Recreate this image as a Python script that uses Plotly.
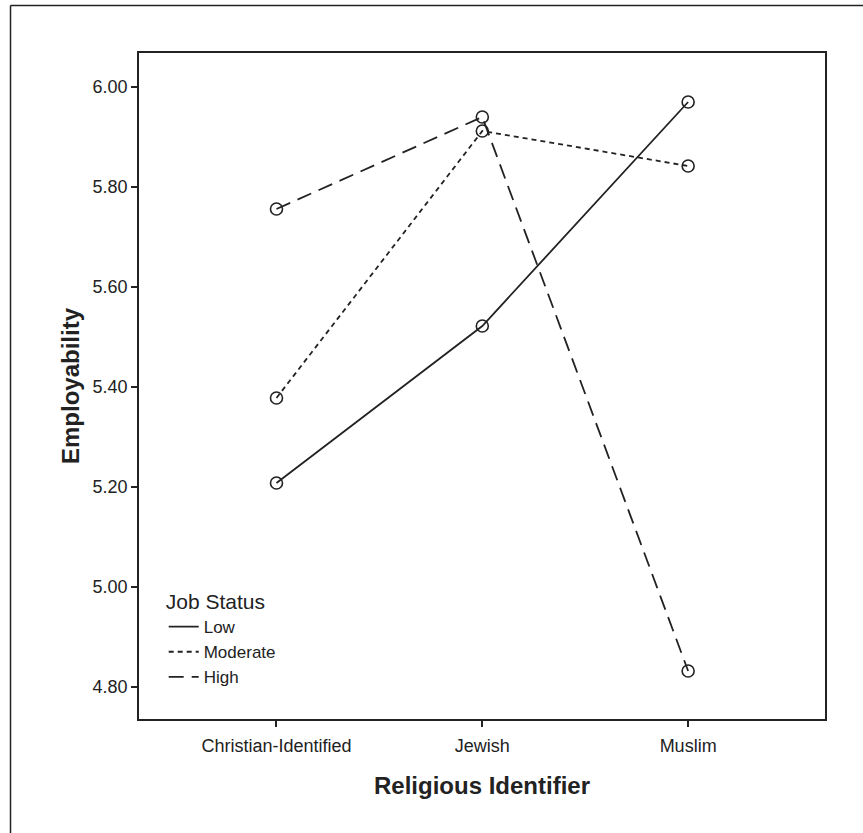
import plotly.graph_objects as go

categories = ["Christian-Identified", "Jewish", "Muslim"]
low = [5.208, 5.522, 5.970]
moderate = [5.378, 5.912, 5.842]
high = [5.756, 5.940, 4.832]
series_names = ["Low", "Moderate", "High"]
y_ticks = [4.80, 5.00, 5.20, 5.40, 5.60, 5.80, 6.00]

FONT = "Liberation Sans, Arial, sans-serif"
INK = "#222222"
dashes = ["solid", "5px,4px", "15px,8px"]

fig = go.Figure()
for name, vals, dash in zip(series_names, [low, moderate, high], dashes):
    fig.add_trace(go.Scatter(
        x=categories, y=vals, mode="lines", name=name,
        line=dict(color=INK, width=1.8, dash=dash),
        showlegend=True,
    ))
for name, vals in zip(series_names, [low, moderate, high]):
    fig.add_trace(go.Scatter(
        x=categories, y=vals, mode="markers", name=name,
        marker=dict(symbol="circle-open", size=12, color=INK,
                    line=dict(color=INK, width=1.6)),
        showlegend=False, hoverinfo="skip",
    ))

fig.update_layout(
    width=863, height=833,
    margin=dict(l=139, r=38, t=53, b=114),
    paper_bgcolor="white", plot_bgcolor="white",
    font=dict(family=FONT, color=INK, size=18),
    legend=dict(
        title=dict(text="Job Status", font=dict(size=21, family=FONT, color=INK)),
        x=0.036, y=0.206, xanchor="left", yanchor="top",
        bgcolor="rgba(0,0,0,0)", font=dict(size=17, family=FONT, color=INK),
        tracegroupgap=0,
    ),
    showlegend=True,
)
fig.update_xaxes(
    type="category", range=[-0.668, 2.665],
    showline=True, linecolor=INK, linewidth=1.5, mirror=True,
    ticks="outside", ticklen=6, tickwidth=1.5, tickcolor=INK,
    showgrid=False, zeroline=False, ticklabelstandoff=4,
    tickfont=dict(size=18, family=FONT, color=INK),
    title=dict(text="<b>Religious Identifier</b>", font=dict(size=24, family=FONT, color=INK), standoff=22),
)
fig.update_yaxes(
    range=[4.736, 6.068], tickvals=y_ticks, tickformat=".2f",
    showline=True, linecolor=INK, linewidth=1.5, mirror=True,
    ticks="outside", ticklen=6, tickwidth=1.5, tickcolor=INK,
    showgrid=False, zeroline=False,
    tickfont=dict(size=18, family=FONT, color=INK),
    title=dict(text="<b>Employability</b>", font=dict(size=24, family=FONT, color=INK), standoff=6),
)

# outer frame (top and left edges visible in the reference)
fig.add_shape(type="line", xref="paper", yref="paper",
              x0=-0.1873, x1=1.06, y0=1.0713, y1=1.0713,
              line=dict(color=INK, width=1.5))
fig.add_shape(type="line", xref="paper", yref="paper",
              x0=-0.1873, x1=-0.1873, y0=1.0713, y1=-0.18,
              line=dict(color=INK, width=1.5))

fig.write_html("out.html", config={"displayModeBar": False},
               post_script="document.body.style.margin='0px';")
